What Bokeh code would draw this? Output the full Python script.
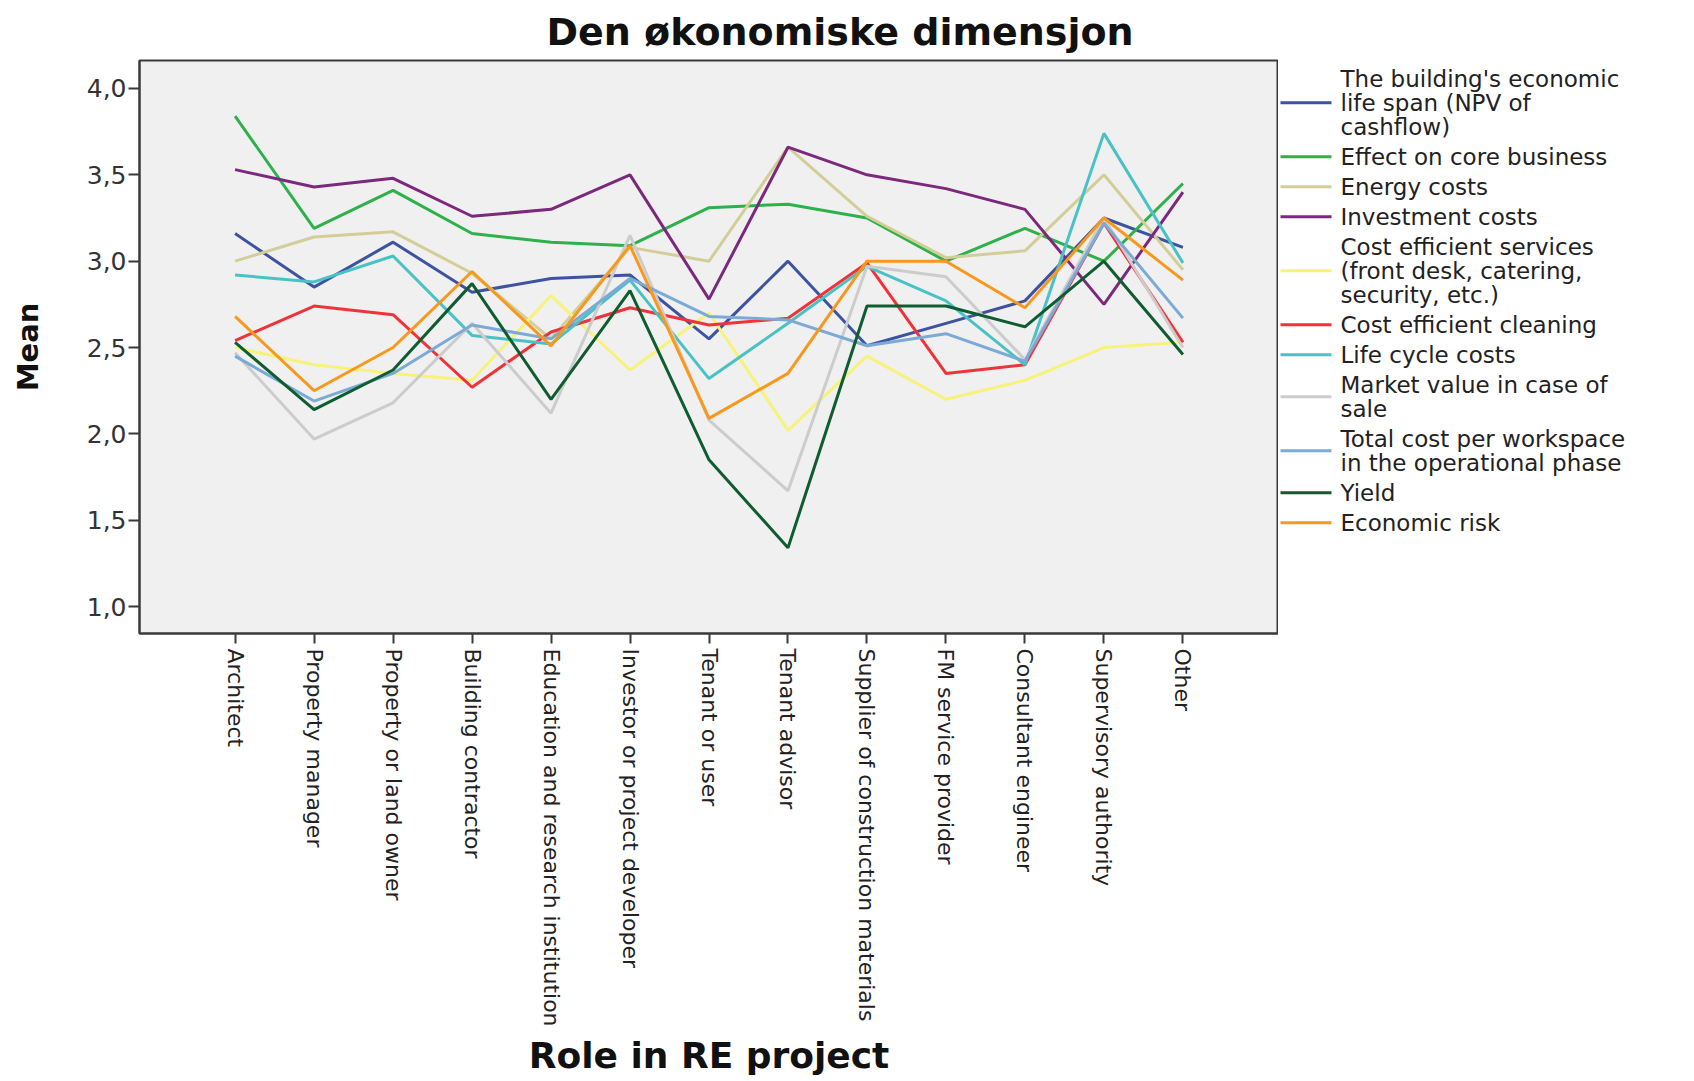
import math
from bokeh.plotting import figure
from bokeh.models import Range1d, FactorRange, ColumnDataSource, FixedTicker
from bokeh.layouts import row
from bokeh.embed import file_html
from bokeh.resources import INLINE
from bokeh.core.properties import value

# ---------------- data ----------------
categories = ["Architect", "Property manager", "Property or land owner", "Building contractor",
              "Education and research institution", "Investor or project developer", "Tenant or user",
              "Tenant advisor", "Supplier of construction materials", "FM service provider",
              "Consultant engineer", "Supervisory authority", "Other"]

series_names = ["The building's economic\nlife span (NPV of\ncashflow)",
                "Effect on core business",
                "Energy costs",
                "Investment costs",
                "Cost efficient services\n(front desk, catering,\nsecurity, etc.)",
                "Cost efficient cleaning",
                "Life cycle costs",
                "Market value in case of\nsale",
                "Total cost per workspace\nin the operational phase",
                "Yield",
                "Economic risk"]

npv_life_span    = [3.16, 2.85, 3.11, 2.82, 2.90, 2.92, 2.55, 3.00, 2.51, 2.64, 2.77, 3.25, 3.08]
core_business    = [3.84, 3.19, 3.41, 3.16, 3.11, 3.09, 3.31, 3.33, 3.25, 3.00, 3.19, 3.00, 3.45]
energy_costs     = [3.00, 3.14, 3.17, 2.93, 2.55, 3.08, 3.00, 3.66, 3.26, 3.02, 3.06, 3.50, 2.95]
investment_costs = [3.53, 3.43, 3.48, 3.26, 3.30, 3.50, 2.78, 3.66, 3.50, 3.42, 3.30, 2.75, 3.40]
services         = [2.50, 2.40, 2.35, 2.31, 2.80, 2.37, 2.70, 2.02, 2.45, 2.20, 2.31, 2.50, 2.53]
cleaning         = [2.54, 2.74, 2.69, 2.27, 2.59, 2.73, 2.63, 2.67, 2.99, 2.35, 2.40, 3.22, 2.53]
life_cycle       = [2.92, 2.88, 3.03, 2.57, 2.52, 2.89, 2.32, 2.64, 2.97, 2.77, 2.40, 3.74, 2.99]
market_value     = [2.47, 1.97, 2.18, 2.64, 2.12, 3.15, 2.08, 1.67, 2.97, 2.91, 2.43, 3.25, 2.50]
cost_workspace   = [2.45, 2.19, 2.35, 2.63, 2.55, 2.90, 2.68, 2.66, 2.51, 2.58, 2.42, 3.22, 2.67]
yield_values     = [2.53, 2.14, 2.37, 2.87, 2.20, 2.83, 1.85, 1.34, 2.74, 2.74, 2.62, 3.00, 2.46]
economic_risk    = [2.68, 2.25, 2.50, 2.94, 2.51, 3.09, 2.09, 2.35, 3.00, 3.00, 2.73, 3.25, 2.89]

series_values = [npv_life_span, core_business, energy_costs, investment_costs, services, cleaning,
                 life_cycle, market_value, cost_workspace, yield_values, economic_risk]

colors = ["#3d52a1", "#2eb04a", "#d3ce97", "#7c287d", "#f7f27a", "#ef3338",
          "#48c2c5", "#cccccc", "#7aaad5", "#0e5c2f", "#f8981d"]

y_tick_values = [1.0, 1.5, 2.0, 2.5, 3.0, 3.5, 4.0]
y_tick_labels = ["1,0", "1,5", "2,0", "2,5", "3,0", "3,5", "4,0"]

FONT = "DejaVu Sans"
DARK = "#3a3a3a"

# layout (pixels)
BORDER_LEFT, FRAME_W = 139, 1139
BORDER_TOP, FRAME_H, BORDER_BOTTOM = 60, 573, 446
LEG_W = 410

# ---------------- main chart ----------------
p = figure(x_range=FactorRange(factors=categories, range_padding=0.71, range_padding_units="absolute"),
           y_range=Range1d(0.844, 4.162),
           frame_width=FRAME_W, frame_height=FRAME_H,
           min_border_left=BORDER_LEFT, min_border_right=0,
           min_border_top=BORDER_TOP, min_border_bottom=BORDER_BOTTOM,
           output_backend="svg", toolbar_location=None,
           title="Den økonomiske dimensjon")

p.background_fill_color = "#f0f0f0"
p.border_fill_color = "white"
p.outline_line_color = DARK
p.outline_line_width = 2
p.xgrid.visible = False
p.ygrid.visible = False

p.title.text_font = FONT
p.title.text_font_style = "bold"
p.title.text_font_size = "38px"
p.title.text_color = "#111111"
p.title.align = "left"
p.title.offset = 407
p.title.standoff = 14

src = ColumnDataSource(dict(x=categories, **{f"s{i}": v for i, v in enumerate(series_values)}))
for i, col in enumerate(colors):
    p.line(x="x", y=f"s{i}", source=src, line_color=col, line_width=3)

yax = p.yaxis[0]
yax.ticker = FixedTicker(ticks=y_tick_values)
yax.major_label_overrides = {v: l for v, l in zip(y_tick_values, y_tick_labels)}
yax.minor_tick_line_color = None
yax.major_tick_in = 0
yax.major_tick_out = 11
yax.major_tick_line_width = 2
yax.major_tick_line_color = DARK
yax.axis_line_color = DARK
yax.axis_line_width = 2
yax.major_label_standoff = 2
yax.major_label_text_font = FONT
yax.major_label_text_font_size = "25px"
yax.major_label_text_color = "#333333"
yax.axis_label = "Mean"
yax.axis_label_text_font = FONT
yax.axis_label_text_font_style = "bold"
yax.axis_label_text_font_size = "29px"
yax.axis_label_text_color = "#111111"
yax.axis_label_standoff = 39

xax = p.xaxis[0]
xax.major_label_orientation = -math.pi / 2
xax.major_tick_in = 0
xax.major_tick_out = 10
xax.major_tick_line_width = 2
xax.major_tick_line_color = DARK
xax.axis_line_color = DARK
xax.axis_line_width = 2
xax.major_label_standoff = 5
xax.major_label_text_font = FONT
xax.major_label_text_font_size = "22px"
xax.major_label_text_color = "#222222"
xax.axis_label = "Role in RE project"
xax.axis_label_text_font = FONT
xax.axis_label_text_font_style = "bold"
xax.axis_label_text_font_size = "36px"
xax.axis_label_text_color = "#111111"
xax.axis_label_standoff = 5

# ---------------- legend panel (y in page pixels, aligned with the main frame) ----------------
frame_top = BORDER_TOP
frame_bottom = BORDER_TOP + FRAME_H
q = figure(x_range=Range1d(0, LEG_W), y_range=Range1d(frame_bottom, frame_top),
           frame_width=LEG_W, frame_height=FRAME_H,
           min_border_left=0, min_border_right=0,
           min_border_top=BORDER_TOP, min_border_bottom=BORDER_BOTTOM,
           x_axis_type=None, y_axis_type=None,
           output_backend="svg", toolbar_location=None)
q.outline_line_color = None
q.background_fill_color = "white"
q.border_fill_color = "white"
q.xgrid.visible = False
q.ygrid.visible = False

first_line = 78.3
line_step = 24.0
entry_gap = 30.0
tx, ty, tt = [], [], []
sx0, sx1, sy, sc = [], [], [], []
y = first_line
for name, col in zip(series_names, colors):
    lines = name.split("\n")
    ys = [y + k * line_step for k in range(len(lines))]
    for yy, t in zip(ys, lines):
        tx.append(62); ty.append(yy); tt.append(t)
    sx0.append(2); sx1.append(53); sy.append(sum(ys) / len(ys)); sc.append(col)
    y = ys[-1] + entry_gap

q.segment(x0=sx0, y0=sy, x1=sx1, y1=sy, line_color=sc, line_width=3)
q.text(x=tx, y=ty, text=tt, text_font=value(FONT), text_font_size="23px",
       text_baseline="middle", text_align="left", text_color="#222222")

layout = row(p, q)
open("out.html", "w").write(file_html(layout, INLINE))
